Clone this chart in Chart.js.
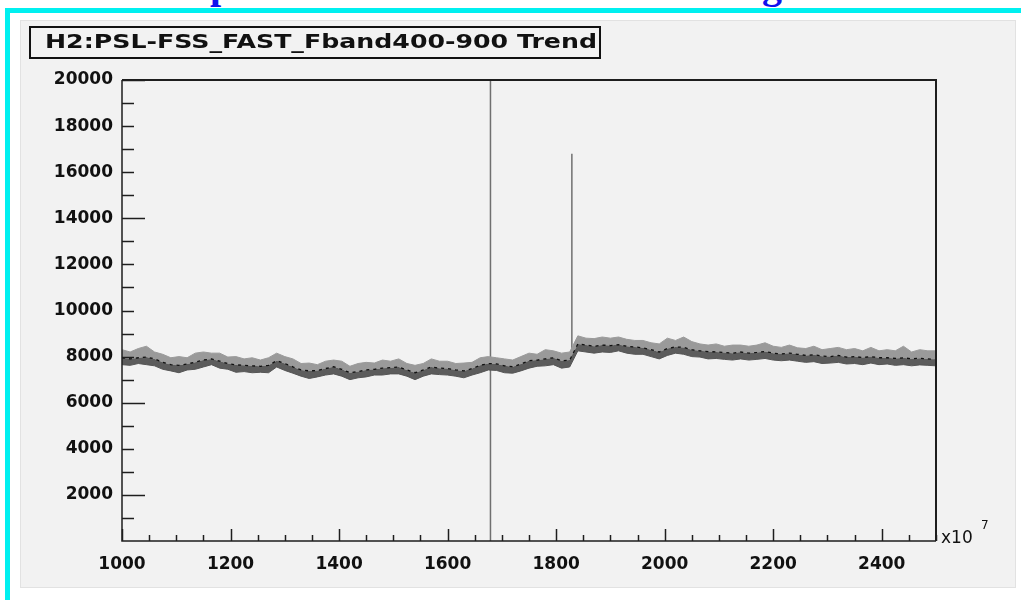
<!DOCTYPE html>
<html>
<head>
<meta charset="utf-8">
<script src="https://cdn.jsdelivr.net/npm/chart.js@4/dist/chart.umd.min.js"></script>
<style>
  html, body { margin: 0; padding: 0; background: #ffffff; width: 1021px; height: 600px; overflow: hidden; position: relative; }
  .frame { position: absolute; left: 5px; top: 8px; width: 1030px; height: 600px; border-top: 5px solid #00f0f0; border-left: 5px solid #00f0f0; box-sizing: border-box; }
  .panel { position: absolute; left: 21px; top: 21px; width: 994px; height: 566px; background: #f2f2f2; box-shadow: 0 0 0 1px #e2e2e2; }
  .head { position: absolute; top: -35px; font-family: "Liberation Serif", serif; font-weight: bold; font-size: 40px; line-height: 40px; color: #1010ee; }
</style>
</head>
<body>
<div class="head" style="left:210px">p</div>
<div class="head" style="left:762px">g</div>
<div class="frame"></div>
<div class="panel"><canvas id="trend"></canvas></div>
<script>
// Trend of H2:PSL-FSS_FAST_Fband400-900: per-bin minimum, mean and maximum
const chartTitle = "H2:PSL-FSS_FAST_Fband400-900 Trend";
const axisExponent = "7";

const binX = [
  1000, 1015, 1030, 1045, 1060, 1075, 1090, 1105, 1120, 1135,
  1150, 1165, 1180, 1195, 1210, 1225, 1240, 1255, 1270, 1285,
  1300, 1315, 1330, 1345, 1360, 1375, 1390, 1405, 1420, 1435,
  1450, 1465, 1480, 1495, 1510, 1525, 1540, 1555, 1570, 1585,
  1600, 1615, 1630, 1645, 1660, 1675, 1690, 1705, 1720, 1735,
  1750, 1765, 1780, 1795, 1810, 1825, 1840, 1855, 1870, 1885,
  1900, 1915, 1930, 1945, 1960, 1975, 1990, 2005, 2020, 2035,
  2050, 2065, 2080, 2095, 2110, 2125, 2140, 2155, 2170, 2185,
  2200, 2215, 2230, 2245, 2260, 2275, 2290, 2305, 2320, 2335,
  2350, 2365, 2380, 2395, 2410, 2425, 2440, 2455, 2470, 2485,
  2500
];

const bandMean = [
  7950, 7900, 7950, 7980, 7900, 7750, 7650, 7620, 7680, 7760,
  7850, 7900, 7800, 7700, 7640, 7620, 7600, 7580, 7620, 7820,
  7700, 7550, 7420, 7380, 7400, 7480, 7560, 7450, 7300, 7350,
  7420, 7450, 7500, 7520, 7550, 7420, 7300, 7420, 7550, 7500,
  7480, 7420, 7380, 7480, 7620, 7700, 7680, 7600, 7560, 7680,
  7820, 7850, 7900, 7950, 7820, 7850, 8550, 8500, 8450, 8500,
  8480, 8520, 8450, 8420, 8380, 8300, 8200, 8350, 8420, 8400,
  8300, 8250, 8220, 8200, 8180, 8150, 8200, 8150, 8180, 8220,
  8150, 8120, 8150, 8100, 8050, 8080, 8020, 8000, 8050, 7980,
  8000, 7960, 8000, 7950, 7950, 7920, 7950, 7900, 7930, 7900,
  7880
];

const bandMax = [
  8300, 8200, 8350, 8450, 8200, 8100, 7950, 8000, 7950, 8150,
  8200, 8150, 8150, 7980, 8000, 7900, 7950, 7850, 7950, 8150,
  8000, 7900, 7700, 7720, 7650, 7800, 7850, 7800, 7580, 7700,
  7750, 7720, 7850, 7800, 7900, 7700, 7620, 7700, 7900, 7800,
  7800, 7700, 7720, 7750, 7950, 8000, 7950, 7900, 7850, 8000,
  8150, 8100, 8300, 8250, 8150, 8200, 8900, 8800, 8780, 8850,
  8800, 8850, 8750, 8700, 8700, 8600, 8550, 8800, 8700, 8850,
  8650, 8550, 8500, 8550, 8450, 8500, 8500, 8450, 8500, 8600,
  8450, 8400, 8500, 8380, 8350, 8450, 8300, 8350, 8400, 8300,
  8350, 8250, 8400, 8250, 8300, 8250, 8450, 8200, 8300, 8250,
  8250
];

const bandMin = [
  7650, 7620, 7700, 7650, 7600, 7450, 7380, 7300, 7420, 7450,
  7550, 7650, 7500, 7450, 7320, 7350, 7300, 7320, 7300, 7550,
  7400, 7280, 7150, 7050, 7120, 7200, 7250, 7150, 7000, 7080,
  7120, 7200, 7200, 7250, 7250, 7150, 7000, 7150, 7250, 7220,
  7200, 7150, 7080, 7200, 7300, 7420, 7400, 7300, 7280, 7380,
  7500, 7580, 7600, 7650, 7500, 7550, 8250, 8200, 8150, 8200,
  8180, 8250, 8150, 8100, 8100, 8000, 7900, 8050, 8150, 8100,
  8000, 7980, 7900, 7920, 7880, 7850, 7900, 7850, 7880, 7920,
  7850, 7820, 7850, 7800, 7750, 7780, 7700, 7720, 7750, 7680,
  7700, 7650, 7720, 7650, 7680, 7620, 7650, 7600, 7640, 7620,
  7600
];

// Single-bin glitches drawn as vertical strokes
const glitchX = [1679, 1829];
const glitchLow = [0, 7900];
const glitchHigh = [20000, 16800];

const xMin = 1000, xMax = 2500, xStep = 50, xLabelEvery = 200;
const yMin = 0, yMax = 20000, yStep = 1000, yLabelEvery = 2000;
const yLongTicks = [2000, 6000, 14000, 20000];

const pts = arr => binX.map((x, i) => ({ x, y: arr[i] }));

const datasets = [
  { label: 'min', data: pts(bandMin), borderColor: '#555555', borderWidth: 1, pointRadius: 0, fill: false },
  { label: 'mean', data: pts(bandMean), borderColor: '#111111', borderWidth: 1.3, borderDash: [3, 4], pointRadius: 0, fill: '-1', backgroundColor: '#5c5c5c' },
  { label: 'max', data: pts(bandMax), borderColor: '#9a9a9a', borderWidth: 1, pointRadius: 0, fill: '-1', backgroundColor: '#9a9a9a' }
];
glitchX.forEach((gx, i) => {
  datasets.push({
    label: 'glitch' + i,
    data: [{ x: gx, y: glitchLow[i] }, { x: gx, y: glitchHigh[i] }],
    borderColor: '#707070', borderWidth: 1.5, pointRadius: 0, fill: false
  });
});

const labelFont = { family: 'DejaVu Sans', size: 17, weight: 'bold' };

// Inward ROOT-style ticks, frame, exponent and boxed title
const frameAndTicks = {
  id: 'frameAndTicks',
  afterDatasetsDraw(chart) {
    const { ctx, chartArea: a, scales: { x, y } } = chart;
    ctx.save();
    ctx.lineCap = 'butt';
    ctx.strokeStyle = '#1e1e1e';
    ctx.lineWidth = 1.5;
    ctx.beginPath();
    ctx.moveTo(a.left, a.top); ctx.lineTo(a.left, a.bottom); ctx.lineTo(a.right, a.bottom);
    ctx.stroke();
    ctx.lineWidth = 2;
    ctx.beginPath();
    ctx.moveTo(a.left, a.top); ctx.lineTo(a.right, a.top); ctx.lineTo(a.right, a.bottom);
    ctx.stroke();

    ctx.lineWidth = 1.5;
    x.ticks.forEach(t => {
      const px = Math.round(x.getPixelForValue(t.value)) + 0.5;
      const len = t.value % xLabelEvery === 0 ? 12 : 6;
      ctx.beginPath(); ctx.moveTo(px, a.bottom); ctx.lineTo(px, a.bottom - len); ctx.stroke();
    });
    y.ticks.forEach(t => {
      if (t.value === yMin) return;
      const py = Math.round(y.getPixelForValue(t.value)) + 0.5;
      const len = yLongTicks.includes(t.value) ? 23 : 12;
      ctx.beginPath(); ctx.moveTo(a.left, py); ctx.lineTo(a.left + len, py); ctx.stroke();
    });

    // axis exponent
    ctx.fillStyle = '#111';
    ctx.textBaseline = 'middle';
    ctx.textAlign = 'left';
    ctx.font = '17px "DejaVu Sans"';
    ctx.fillText('x10', a.right + 5, a.bottom - 2);
    ctx.font = '12px "DejaVu Sans"';
    ctx.fillText(axisExponent, a.right + 45, a.bottom - 15);

    // title box
    const bx = 9, by = 6, bw = 570, bh = 31;
    ctx.lineWidth = 2;
    ctx.strokeStyle = '#111';
    ctx.strokeRect(bx, by, bw, bh);
    ctx.font = 'bold 19px "DejaVu Sans"';
    const tw = ctx.measureText(chartTitle).width;
    const target = 552;
    ctx.translate(bx + 15, by + bh / 2 + 1);
    ctx.scale(target / tw, 1);
    ctx.fillText(chartTitle, 0, 0);
    ctx.restore();
  }
};

new Chart(document.getElementById('trend'), {
  type: 'line',
  data: { datasets },
  options: {
    responsive: true,
    maintainAspectRatio: false,
    animation: false,
    devicePixelRatio: 1,
    layout: { padding: { top: 59, right: 79, left: 0, bottom: 0 } },
    plugins: { legend: { display: false }, tooltip: { enabled: false }, title: { display: false } },
    scales: {
      x: {
        type: 'linear', min: xMin, max: xMax,
        afterFit: s => { s.height = 46; },
        border: { display: false },
        grid: { display: true, drawOnChartArea: false, drawTicks: false, color: 'rgba(0,0,0,0)' },
        ticks: {
          stepSize: xStep, autoSkip: false, maxTicksLimit: 200, maxRotation: 0, minRotation: 0,
          padding: 13, color: '#111', font: labelFont,
          callback: v => (v % xLabelEvery === 0 ? String(v) : '')
        }
      },
      y: {
        type: 'linear', min: yMin, max: yMax,
        afterFit: s => { s.width = 101; },
        border: { display: false },
        grid: { display: true, drawOnChartArea: false, drawTicks: false, color: 'rgba(0,0,0,0)' },
        ticks: {
          stepSize: yStep, autoSkip: false, maxTicksLimit: 200,
          padding: 9, color: '#111', font: labelFont,
          callback: v => (v > yMin && v % yLabelEvery === 0 ? String(v) : '')
        }
      }
    }
  },
  plugins: [frameAndTicks]
});
</script>
</body>
</html>
